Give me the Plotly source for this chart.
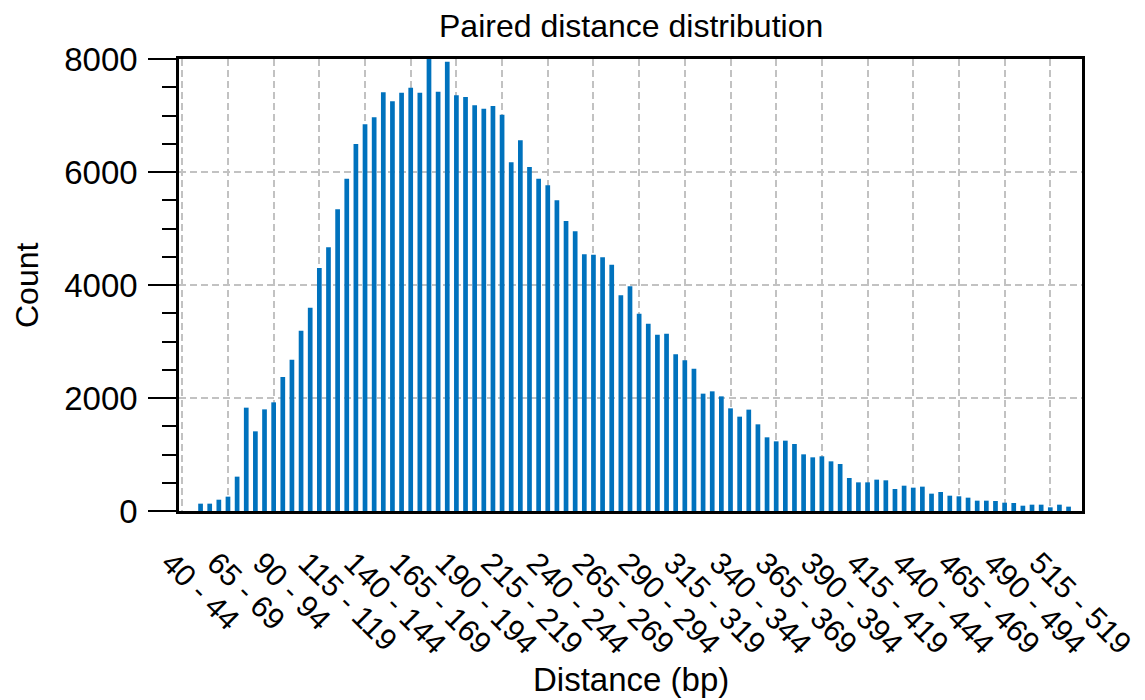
import plotly.graph_objects as go

categories = [
    "40 - 44", "45 - 49", "50 - 54", "55 - 59", "60 - 64", "65 - 69", "70 - 74", "75 - 79", "80 - 84", "85 - 89",
    "90 - 94", "95 - 99", "100 - 104", "105 - 109", "110 - 114", "115 - 119", "120 - 124", "125 - 129", "130 - 134", "135 - 139",
    "140 - 144", "145 - 149", "150 - 154", "155 - 159", "160 - 164", "165 - 169", "170 - 174", "175 - 179", "180 - 184", "185 - 189",
    "190 - 194", "195 - 199", "200 - 204", "205 - 209", "210 - 214", "215 - 219", "220 - 224", "225 - 229", "230 - 234", "235 - 239",
    "240 - 244", "245 - 249", "250 - 254", "255 - 259", "260 - 264", "265 - 269", "270 - 274", "275 - 279", "280 - 284", "285 - 289",
    "290 - 294", "295 - 299", "300 - 304", "305 - 309", "310 - 314", "315 - 319", "320 - 324", "325 - 329", "330 - 334", "335 - 339",
    "340 - 344", "345 - 349", "350 - 354", "355 - 359", "360 - 364", "365 - 369", "370 - 374", "375 - 379", "380 - 384", "385 - 389",
    "390 - 394", "395 - 399", "400 - 404", "405 - 409", "410 - 414", "415 - 419", "420 - 424", "425 - 429", "430 - 434", "435 - 439",
    "440 - 444", "445 - 449", "450 - 454", "455 - 459", "460 - 464", "465 - 469", "470 - 474", "475 - 479", "480 - 484", "485 - 489",
    "490 - 494", "495 - 499", "500 - 504", "505 - 509", "510 - 514", "515 - 519", "520 - 524", "525 - 529",
]

counts = [
    0, 0, 130, 130, 200, 254, 608, 1829, 1410, 1799,
    1923, 2372, 2678, 3192, 3599, 4301, 4667, 5339, 5882, 6496,
    6844, 6968, 7410, 7251, 7404, 7493, 7404, 8000, 7422, 7953,
    7357, 7327, 7180, 7121, 7168, 7015, 6171, 6560, 6088, 5882,
    5764, 5499, 5133, 4950, 4543, 4537, 4490, 4360, 3817, 3976,
    3493, 3316, 3121, 3139, 2773, 2667, 2519, 2077, 2118, 2029,
    1817, 1670, 1794, 1534, 1304, 1233, 1245, 1186, 1003, 950,
    968, 879, 832, 584, 507, 507, 555, 543, 389, 448,
    413, 431, 307, 336, 271, 260, 236, 183, 183, 177,
    147, 142, 94, 112, 112, 65, 112, 77,
]

tick_labels = ["40 - 44", "65 - 69", "90 - 94", "115 - 119", "140 - 144", "165 - 169", "190 - 194",
               "215 - 219", "240 - 244", "265 - 269", "290 - 294", "315 - 319", "340 - 344", "365 - 369",
               "390 - 394", "415 - 419", "440 - 444", "465 - 469", "490 - 494", "515 - 519"]
y_ticks = [0, 2000, 4000, 6000, 8000]

title_text = "Paired distance distribution"
x_title = "Distance (bp)"
y_title = "Count"

FONT = "Liberation Sans, Arial, Helvetica, sans-serif"
BLUE = "#0072BD"
GRID = "#c2c2c2"

fig = go.Figure(go.Bar(x=categories, y=counts, marker=dict(color=BLUE, line=dict(width=0))))

fig.update_layout(
    width=1145, height=700,
    margin=dict(l=179, r=63, t=59, b=189, autoexpand=False),
    paper_bgcolor="white", plot_bgcolor="white",
    bargap=0.485,
    showlegend=False,
    font=dict(family=FONT, color="black", size=31),
)

fig.update_xaxes(
    type="category",
    range=[-0.36, 98.47],
    tickmode="array", tickvals=tick_labels, ticktext=tick_labels,
    tickangle=45,
    ticks="",
    ticklabelstandoff=19,
    ticklabelshift=-12,
    tickfont=dict(family=FONT, size=30.5, color="black"),
    showgrid=True, gridcolor=GRID, gridwidth=1.5, griddash="7px,4px",
    showline=True, linecolor="black", linewidth=2.5, mirror=True,
    zeroline=False,
)

fig.update_yaxes(
    range=[0, 8000],
    tickmode="array", tickvals=y_ticks, ticktext=[str(v) for v in y_ticks],
    ticks="outside", ticklen=28, tickwidth=2, tickcolor="black",
    ticklabelstandoff=4,
    minor=dict(dtick=500, ticks="outside", ticklen=14, tickwidth=2, tickcolor="black", showgrid=False),
    tickfont=dict(family=FONT, size=33, color="black"),
    showgrid=True, gridcolor=GRID, gridwidth=1.5, griddash="7px,4px",
    showline=True, linecolor="black", linewidth=2.5, mirror=True,
    zeroline=False,
)

fig.add_annotation(text=title_text, xref="paper", yref="paper", x=0.5, y=1,
                   xanchor="center", yanchor="middle", yshift=33, showarrow=False,
                   font=dict(family=FONT, size=32, color="black"))
fig.add_annotation(text=x_title, xref="paper", yref="paper", x=0.5, y=0,
                   xanchor="center", yanchor="middle", yshift=-168, showarrow=False,
                   font=dict(family=FONT, size=33, color="black"))
fig.add_annotation(text=y_title, xref="paper", yref="paper", x=0, y=0.5,
                   xanchor="center", yanchor="middle", xshift=-152, textangle=-90, showarrow=False,
                   font=dict(family=FONT, size=32, color="black"))

fig.write_html("out.html")
